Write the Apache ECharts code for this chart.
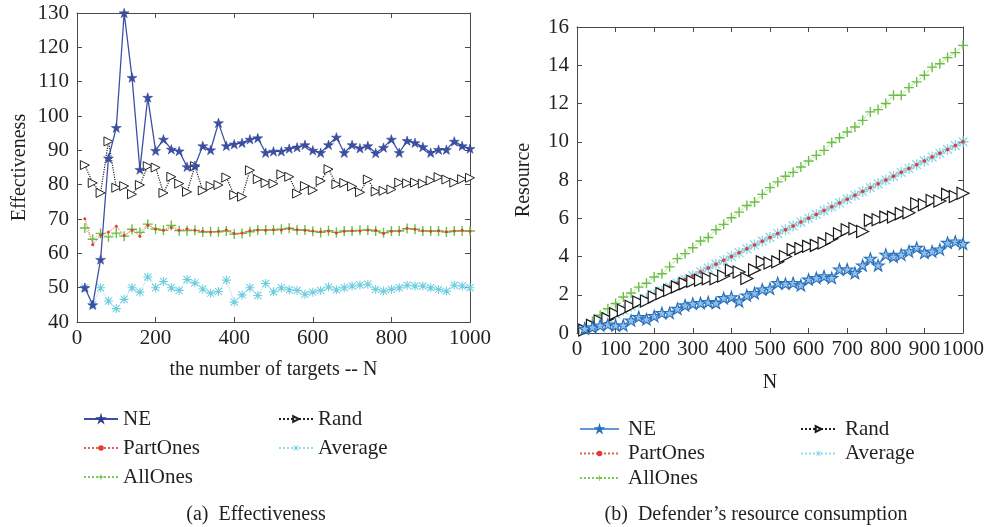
<!DOCTYPE html>
<html>
<head>
<meta charset="utf-8">
<script src="https://cdn.jsdelivr.net/npm/echarts@6/dist/echarts.min.js"></script>
<style>html,body{margin:0;padding:0;background:#fff;}#c{width:987px;height:527px;}</style>
</head>
<body>
<div id="c"></div>
<script>
// ---------- data ----------
const N = [20,40,60,80,100,120,140,160,180,200,220,240,260,280,300,320,340,360,380,400,
           420,440,460,480,500,520,540,560,580,600,620,640,660,680,700,720,740,760,780,800,
           820,840,860,880,900,920,940,960,980,1000];

// (a) Effectiveness
const effNE = [50,45,58.2,87.7,96.6,130,111.2,84.4,105.4,89.9,93.2,90.3,89.8,85.2,85.5,91.3,90.1,98.0,91.3,91.8,
               92.2,93.2,93.6,89.3,89.7,89.7,90.5,90.9,91.6,90.0,89.3,91.6,93.8,89.3,91.6,90.6,91.3,89.2,90.8,93.2,
               89.3,92.8,92.2,91.0,89.3,90.2,90.2,92.6,91.3,90.5];
const effRand = [85.7,80.5,77.6,92.6,79.1,79.6,77.2,79.9,85.4,85.0,77.6,82.3,80.3,77.9,85.4,78.3,79.6,79.9,82.1,77.0,
                 76.5,84.2,81.6,80.5,80.3,83.0,82.3,77.4,79.6,78.4,81.1,84.5,80.1,80.5,79.5,77.8,81.5,78.0,78.2,78.6,
                 80.6,80.4,80.6,80.3,81.2,82.2,81.5,80.6,81.6,82.0];
const effPartOnes = [70.1,62.5,65.3,66.2,67.9,65.2,66.7,65.0,68.2,67.1,66.7,67.5,66.7,67.1,66.7,66.4,66.2,66.4,66.8,65.8,
                     65.9,66.6,66.8,66.7,66.9,66.8,67.2,66.9,66.7,66.5,66.3,66.5,65.9,66.4,66.6,66.5,66.8,66.7,65.8,66.4,
                     66.5,67.3,67.0,66.6,66.4,66.6,66.3,66.5,66.7,66.4];
const effAverage = [50,45,50.0,46.1,43.9,46.6,50.0,48.7,53.1,50.0,51.8,50.0,49.2,52.4,51.4,49.6,48.4,48.9,52.2,45.8,
                    47.9,50.0,47.7,51.2,48.8,50.0,49.4,49.2,48.1,48.7,49.2,50.2,49.4,50.0,50.5,50.8,51.0,49.5,49.0,49.5,
                    50.0,50.7,50.5,50.5,50.0,49.5,49.0,50.7,50.5,50.0];
const effAllOnes = [67.4,64.1,65.8,64.8,65.9,65.0,67.0,66.1,68.5,67.1,66.7,68.1,66.6,66.6,66.7,66.2,66.3,66.3,66.5,65.6,
                    65.8,66.3,66.8,66.8,66.8,67.0,67.3,66.8,66.8,66.4,66.1,66.6,66.1,66.5,66.5,66.7,66.8,66.5,66.0,66.5,
                    66.5,67.2,67.0,66.5,66.5,66.5,66.2,66.5,66.5,66.5];

// (b) Defender's resource consumption
const resNE = [0.23,0.3,0.4,0.45,0.4,0.4,0.66,0.84,0.72,0.89,1.05,1.05,1.27,1.45,1.54,1.57,1.62,1.57,1.83,1.88,
               1.66,1.97,2.09,2.28,2.32,2.62,2.58,2.62,2.5,2.8,2.88,2.97,2.88,3.33,3.33,3.14,3.54,3.89,3.54,4.1,
               4.0,4.1,4.27,4.46,4.2,4.27,4.37,4.72,4.79,4.67];
const resRand = [0.15,0.4,0.63,0.75,1.01,1.19,1.4,1.62,1.67,1.88,2.06,2.23,2.41,2.58,2.71,2.76,2.84,2.84,2.98,3.28,
                 3.19,2.85,3.3,3.72,3.66,3.72,4.0,4.36,4.41,4.53,4.58,4.7,4.93,5.19,5.4,5.45,5.31,5.89,5.92,6.06,
                 6.06,6.24,6.29,6.76,6.71,6.93,6.9,7.25,7.14,7.31];
const resPartOnes = [0.2,0.4,0.6,0.8,1.0,1.2,1.4,1.6,1.8,2.0,2.2,2.4,2.6,2.8,3.0,3.2,3.4,3.6,3.8,4.0,
                     4.2,4.4,4.6,4.8,5.0,5.2,5.4,5.6,5.8,6.0,6.2,6.4,6.6,6.8,7.0,7.2,7.4,7.6,7.8,8.0,
                     8.2,8.4,8.6,8.8,9.0,9.2,9.4,9.6,9.8,10.0];
const resAverage = [0.2,0.4,0.6,0.8,1.0,1.2,1.4,1.6,1.8,2.0,2.2,2.4,2.6,2.8,3.0,3.2,3.4,3.6,3.8,4.0,
                    4.2,4.4,4.6,4.8,5.0,5.2,5.4,5.6,5.8,6.0,6.2,6.4,6.6,6.8,7.0,7.2,7.4,7.6,7.8,8.0,
                    8.2,8.4,8.6,8.8,9.0,9.2,9.4,9.6,9.8,10.0];
const resAllOnes = [0.3,0.6,0.93,1.27,1.54,1.88,2.09,2.4,2.6,2.93,3.1,3.46,3.89,4.15,4.46,4.81,4.99,5.4,5.68,6.03,
                    6.32,6.67,6.85,7.25,7.6,7.9,8.2,8.4,8.68,8.99,9.29,9.55,9.96,10.21,10.51,10.77,11.12,11.56,11.68,12.0,
                    12.43,12.43,12.83,13.13,13.48,13.9,14.08,14.4,14.66,15.04];

const effTicks = {min:40, max:130, interval:10};
const resTicks = {min:0, max:16, interval:2};

// ---------- chart ----------
const FONT = '"Liberation Serif", "Times New Roman", serif';
const TXT = '#231f20';
const STAR = 'path://M50,0L61.2,34.5L97.6,34.5L68.2,55.9L79.4,90.5L50,69.1L20.6,90.5L31.8,55.9L2.4,34.5L38.8,34.5Z';
const TRI = 'path://M0,0L10,5L0,10Z';
const PLUS = 'path://M4.3,0H5.7V4.3H10V5.7H5.7V10H4.3V5.7H0V4.3H4.3Z';
const AST = 'path://M4.4,0H5.6V4.4H10V5.6H5.6V10H4.4V5.6H0V4.4H4.4Z M1.4,0.6L5,4.2L8.6,0.6L9.4,1.4L5.8,5L9.4,8.6L8.6,9.4L5,5.8L1.4,9.4L0.6,8.6L4.2,5L0.6,1.4Z';

const pairs = v => N.map((n,i)=>[n,v[i]]);
const plain = v => String(v);

function xAx(grid, pos, labels, interval, name, gap){
  return {
    type:'value', gridIndex:grid, position:pos, min:0, max:1000, interval:interval,
    axisLine:{show:true, onZero:false, lineStyle:{color:'#4a4a4a', width:1}},
    axisTick:{show:true, inside:true, length:5, lineStyle:{color:'#4a4a4a'}},
    axisLabel:{show:labels, fontFamily:FONT, fontSize:21, color:TXT, margin:6, formatter:plain},
    splitLine:{show:false},
    name: name||'', nameLocation:'middle', nameGap:gap||0,
    nameTextStyle:{fontFamily:FONT, fontSize:20, color:TXT}
  };
}
function yAx(grid, pos, labels, t, name, gap){
  return {
    type:'value', gridIndex:grid, position:pos, min:t.min, max:t.max, interval:t.interval,
    axisLine:{show:true, onZero:false, lineStyle:{color:'#4a4a4a', width:1}},
    axisTick:{show:true, inside:true, length:5, lineStyle:{color:'#4a4a4a'}},
    axisLabel:{show:labels, fontFamily:FONT, fontSize:21, color:TXT, margin:8, formatter:plain},
    splitLine:{show:false},
    name: name||'', nameLocation:'middle', nameGap:gap||0,
    nameTextStyle:{fontFamily:FONT, fontSize:20, color:TXT}
  };
}

function ser(name, xi, yi, data, o){
  return Object.assign({
    name:name, type:'line', xAxisIndex:xi, yAxisIndex:yi, data:pairs(data),
    showSymbol:true, symbolKeepAspect:true, animation:false
  }, o);
}

const leftSeries = [
  ser('AllOnes',0,0,effAllOnes,{symbol:PLUS,symbolSize:10,z:2,
      lineStyle:{type:'dotted',width:1,color:'#7cc95a'},itemStyle:{color:'#6cbf45'}}),
  ser('PartOnes',0,0,effPartOnes,{symbol:'circle',symbolSize:3,z:3,
      lineStyle:{type:'dotted',width:1,color:'#ef5a50'},itemStyle:{color:'#e53a30'}}),
  ser('Average',0,0,effAverage,{symbol:AST,symbolSize:9,z:2,
      lineStyle:{type:'dotted',width:1,color:'#8fdcea'},itemStyle:{color:'#6fcde0'}}),
  ser('Rand',0,0,effRand,{symbol:TRI,symbolSize:9,z:4,
      lineStyle:{type:'dotted',width:1.2,color:'#222'},itemStyle:{color:'#fff',borderColor:'#222',borderWidth:1}}),
  ser('NE',0,0,effNE,{symbol:STAR,symbolSize:10,z:5,
      lineStyle:{type:'solid',width:1.3,color:'#3b50a5'},itemStyle:{color:'#3b50a5',borderColor:'#2d3f8f',borderWidth:0.5}})
];
const rightSeries = [
  ser('AllOnes ',2,2,resAllOnes,{symbol:PLUS,symbolSize:10,z:2,
      lineStyle:{type:'dotted',width:1,color:'#7cc95a'},itemStyle:{color:'#6cbf45'}}),
  ser('Average ',2,2,resAverage,{symbol:AST,symbolSize:11,z:2,
      lineStyle:{type:'dotted',width:1,color:'#8fdcea'},itemStyle:{color:'#84d6e8'}}),
  ser('PartOnes ',2,2,resPartOnes,{symbol:'circle',symbolSize:3.5,z:3,
      lineStyle:{type:'dotted',width:1,color:'#ef5a50'},itemStyle:{color:'#e53a30'}}),
  ser('Rand ',2,2,resRand,{symbol:TRI,symbolSize:12,z:4,
      lineStyle:{type:'dotted',width:1.2,color:'#222'},itemStyle:{color:'#fff',borderColor:'#1a1a1a',borderWidth:1.2}}),
  ser('NE ',2,2,resNE,{symbol:STAR,symbolSize:12,z:5,
      lineStyle:{type:'solid',width:2,color:'#5d9ad6'},itemStyle:{color:'#8fc0ea',borderColor:'#2a6fba',borderWidth:1.1}})
];

function leg(names,left,top,w,h,gap,pad){
  return {
    data:names, left:left, top:top, orient:'vertical', itemWidth:w, itemHeight:h, itemGap:gap,
    padding:0, selectedMode:false,
    formatter:n=>n.trim(),
    textStyle:{fontFamily:FONT, fontSize:21, color:TXT, lineHeight:22, padding:[0,0,0,pad]}
  };
}

const option = {
  backgroundColor:'#fff',
  animation:false,
  title:[
    {text:'(a)  Effectiveness', left:251, top:500, textAlign:'center',
     textStyle:{fontFamily:FONT, fontSize:20, fontWeight:'normal', color:TXT}},
    {text:'(b)  Defender\u2019s resource consumption', left:751, top:500, textAlign:'center',
     textStyle:{fontFamily:FONT, fontSize:20, fontWeight:'normal', color:TXT}}
  ],
  grid:[
    {left:77, right:517, top:13, bottom:205},
    {left:577, right:24, top:27, bottom:194}
  ],
  xAxis:[
    xAx(0,'bottom',true,200,'the number of targets -- N',38),
    xAx(0,'top',false,200),
    xAx(1,'bottom',true,100,'N',40),
    xAx(1,'top',false,100)
  ],
  yAxis:[
    yAx(0,'left',true,effTicks,'Effectiveness',47),
    yAx(0,'right',false,effTicks),
    yAx(1,'left',true,resTicks,'Resource',43),
    yAx(1,'right',false,resTicks)
  ],
  legend:[
    leg(['NE','PartOnes','AllOnes'],83,408,34,7,7,0),
    leg(['Rand','Average'],278,408,34,7,7,0),
    leg(['NE ','PartOnes ','AllOnes '],579,418,39,7,2.5,4),
    leg(['Rand ','Average '],800,418,35,7,2.5,4)
  ],
  series: leftSeries.concat(rightSeries)
};

const chart = echarts.init(document.getElementById('c'), null, {renderer:'canvas'});
chart.setOption(option);
</script>
</body>
</html>
